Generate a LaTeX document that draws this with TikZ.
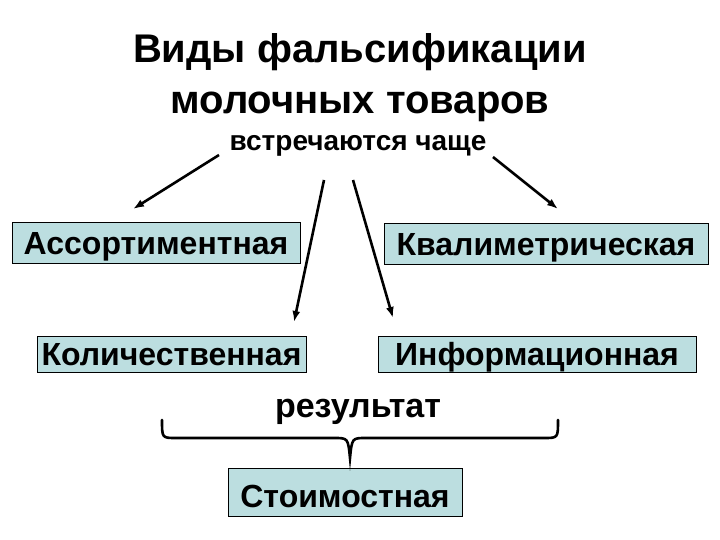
\documentclass[tikz,border=0pt]{standalone}
\usepackage{fontspec}
\setmainfont{Liberation Sans}
\usetikzlibrary{arrows.meta,positioning,calc}
\definecolor{boxfill}{HTML}{BCDEE0}
\begin{document}
\begin{tikzpicture}[x=1pt,y=-1pt,
  vid/.style={draw=black,line width=.8pt,fill=boxfill,inner sep=0pt,text height=23pt,text depth=0pt,font=\bfseries\fontsize{32}{36}\selectfont},
  strel/.style={line width=2.6pt,-{Latex[length=11pt,width=8pt]}}]
\useasboundingbox[fill=white] (0,0) rectangle (720,540);
% header
\node[font=\bfseries\fontsize{40}{48}\selectfont,anchor=base] (title) at (360,63) {Виды фальсификации};
\node[font=\bfseries\fontsize{40}{48}\selectfont,anchor=base] (title2) at (360,114) {молочных товаров};
\node[font=\bfseries\fontsize{28}{32}\selectfont,anchor=base] (often) at (358,151) {встречаются чаще};
% kinds
\node[vid,minimum width=288pt,minimum height=41pt] (assort) at (156,243) {Ассортиментная};
\node[vid,minimum width=324pt,minimum height=41pt] (qual) at (546,243.5) {Квалиметрическая};
\node[vid,minimum width=269pt,minimum height=36pt] (quant) at (171.5,354) {Количественная};
\node[vid,minimum width=318pt,minimum height=36pt] (info) at (537,354) {Информационная};
\node[vid,minimum width=234pt,minimum height=48pt,text height=30pt] (cost) at (345,492) {Стоимостная};
\node[font=\bfseries\fontsize{34}{38}\selectfont,anchor=base] (result) at (358,417) {результат};
% arrows
\coordinate (s1) at (219,155); \coordinate (e1) at (133,209);
\coordinate (s2) at (324,180); \coordinate (e2) at (294,322);
\coordinate (s3) at (353,180); \coordinate (e3) at (393,318);
\coordinate (s4) at (493,157); \coordinate (e4) at (558,209);
\foreach \i in {1,...,4}{\draw[strel] (s\i)--(e\i);}
% brace
\draw[line width=2.6pt,line cap=round] (162,420) .. controls (162,438) .. (176,438) -- (334,438)
  .. controls (348,438) .. (350,458) .. controls (352,438) .. (366,438) -- (544,438)
  .. controls (558,438) .. (558,420);
\end{tikzpicture}
\end{document}
